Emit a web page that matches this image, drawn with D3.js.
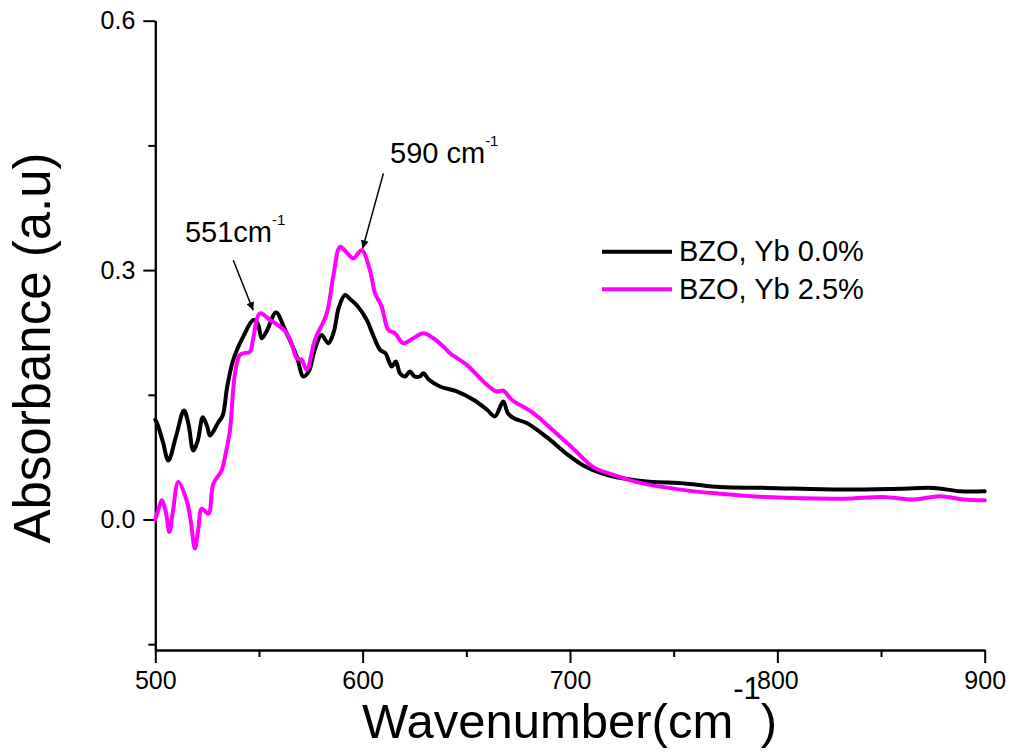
<!DOCTYPE html>
<html>
<head>
<meta charset="utf-8">
<script src="https://cdn.jsdelivr.net/npm/d3@7"></script>
<style>
  body { margin: 0; background: #fff; }
  svg { font-family: "Liberation Sans", Arial, sans-serif; }
</style>
</head>
<body>
<svg id="chart" width="1013" height="755"></svg>
<script>
// BZO, Yb 0.0%
var wn0 = [500, 501, 503.7, 506.3, 510, 513.8, 516, 518.3, 520.5, 522.9, 525, 526.4, 530.4, 532.5, 534.7,
    537.6, 542.4, 547.3, 549.5, 551.3, 554, 558.2, 562.6, 568.2, 571.4, 574, 577, 580.2, 583.4, 586,
    588.5, 591.5, 594, 597.1, 602, 605, 608.4, 611, 614, 616, 618, 620.5, 622.8, 625, 627.6, 629.3,
    632, 637.3, 645.4, 653.4, 660, 663.8, 667.8, 670, 672.7, 679.1, 688.8, 698.4, 706.4, 716, 732.2,
    756.3, 772.3, 794.9, 831.8, 859.1, 875.2, 888, 900];
var abs0 = [0.120, 0.115, 0.093, 0.071, 0.100, 0.131, 0.115, 0.083, 0.095, 0.123, 0.112, 0.101, 0.117, 0.125, 0.160,
    0.192, 0.220, 0.240, 0.235, 0.218, 0.228, 0.249, 0.228, 0.196, 0.172, 0.178, 0.205, 0.222, 0.212, 0.225,
    0.255, 0.270, 0.265, 0.258, 0.240, 0.222, 0.204, 0.200, 0.184, 0.190, 0.176, 0.172, 0.178, 0.172, 0.172, 0.176,
    0.168, 0.160, 0.154, 0.144, 0.132, 0.124, 0.142, 0.128, 0.122, 0.116, 0.099, 0.079, 0.065, 0.055, 0.047,
    0.043, 0.039, 0.038, 0.036, 0.037, 0.038, 0.034, 0.034];

// BZO, Yb 2.5%
var wn25 = [500, 501.5, 503.1, 505, 506.8, 508.5, 511.1, 515.1, 517, 519.1, 520.8, 522.4, 525.6, 528, 532,
    534, 536, 538.4, 540.8, 543, 545.7, 547, 550.5, 555.3, 560.2, 563.4, 566, 568.2, 570.6, 573, 577,
    582.7, 585.8, 589.1, 592, 595.5, 599.5, 603.5, 606, 609.2, 612.4, 615.6, 619.6, 624.4, 629.3, 634.1,
    638.9, 642.1, 650.2, 658.2, 664.6, 667.8, 671.9, 682.3, 691.9, 701.6, 711.2, 719.3, 732.2, 756.3,
    772.3, 794.9, 831.8, 851, 865.6, 878.4, 889.7, 900];
var abs25 = [0.000, 0.012, 0.023, 0.010, -0.015, 0.010, 0.045, 0.023, 0.000, -0.035, -0.010, 0.013, 0.007, 0.043, 0.059,
    0.080, 0.107, 0.175, 0.198, 0.200, 0.202, 0.215, 0.248, 0.240, 0.232, 0.224, 0.210, 0.194, 0.192, 0.180, 0.216,
    0.248, 0.292, 0.328, 0.322, 0.314, 0.324, 0.300, 0.272, 0.256, 0.228, 0.224, 0.212, 0.218, 0.224, 0.218,
    0.208, 0.200, 0.186, 0.166, 0.154, 0.155, 0.144, 0.128, 0.107, 0.085, 0.063, 0.055, 0.045, 0.035,
    0.031, 0.027, 0.025, 0.027, 0.024, 0.028, 0.024, 0.023];

var seriesNames = ["BZO, Yb 0.0%", "BZO, Yb 2.5%"];
var seriesColors = ["#000000", "#ff00ff"];

var xMajor = [500, 600, 700, 800, 900];
var xMinor = [550, 650, 750, 850];
var yMajor = [0, 0.3, 0.6];
var yMinor = [-0.15, 0.15, 0.45];

// peak labels: [text, textX, textY, arrowFromX, arrowFromY, arrowToX, arrowToY]
var peakNotes = [
    ["551cm", 514.3, 0.3337, 537.6, 0.3118, 547.2, 0.2516],
    ["590 cm", 613.2, 0.4284, 610.0, 0.4164, 600.0, 0.3260]
];

var svg = d3.select("#chart");

var x = d3.scaleLinear().domain([500, 900]).range([155.3, 984.7]);
var y = d3.scaleLinear().domain([-0.157, 0.6]).range([650, 20.7]);

var defs = svg.append("defs");
defs.append("marker")
    .attr("id", "arrowhead")
    .attr("viewBox", "0 0 10 10")
    .attr("refX", 10).attr("refY", 5)
    .attr("markerWidth", 15).attr("markerHeight", 8)
    .attr("markerUnits", "userSpaceOnUse")
    .attr("orient", "auto")
    .append("path")
    .attr("d", "M0,0 L10,5 L0,10 Z")
    .attr("fill", "#000");

// axes
var fmt = d3.format(".1f");
function styleAxis(g) {
    g.selectAll("path, line").attr("stroke", "#000").attr("stroke-width", 2);
    g.selectAll("text").attr("fill", "#000").attr("font-size", 25)
        .attr("font-family", "Liberation Sans, Arial, sans-serif");
}

svg.append("g")
    .attr("transform", "translate(0,650)")
    .call(d3.axisBottom(x).tickValues(xMinor).tickSize(7).tickSizeOuter(0).tickFormat(""))
    .call(styleAxis);
svg.append("g")
    .attr("transform", "translate(0,650)")
    .call(d3.axisBottom(x).tickValues(xMajor).tickSize(13).tickSizeOuter(0).tickPadding(8).tickFormat(d3.format("d")))
    .call(styleAxis);

svg.append("g")
    .attr("transform", "translate(155.3,0)")
    .call(d3.axisLeft(y).tickValues(yMinor).tickSize(7).tickSizeOuter(0).tickFormat(""))
    .call(styleAxis);
svg.append("g")
    .attr("transform", "translate(155.3,0)")
    .call(d3.axisLeft(y).tickValues(yMajor).tickSize(12).tickSizeOuter(0).tickPadding(8).tickFormat(fmt))
    .call(styleAxis);

// curves
var line = d3.line()
    .x(function (d) { return x(d[0]); })
    .y(function (d) { return y(d[1]); })
    .curve(d3.curveCatmullRom.alpha(0.5));

var series = [d3.zip(wn0, abs0), d3.zip(wn25, abs25)];
series.forEach(function (pts, i) {
    svg.append("path")
        .datum(pts)
        .attr("d", line)
        .attr("fill", "none")
        .attr("stroke", seriesColors[i])
        .attr("stroke-width", 4)
        .attr("stroke-linejoin", "round")
        .attr("stroke-linecap", "round");
});

// peak annotations
peakNotes.forEach(function (n) {
    svg.append("line")
        .attr("x1", x(n[3])).attr("y1", y(n[4]))
        .attr("x2", x(n[5])).attr("y2", y(n[6]))
        .attr("stroke", "#000").attr("stroke-width", 1.5)
        .attr("marker-end", "url(#arrowhead)");
    var t = svg.append("text")
        .attr("x", x(n[1])).attr("y", y(n[2]))
        .attr("font-size", 29).attr("fill", "#000");
    t.append("tspan").text(n[0]);
    t.append("tspan").text("-1").attr("font-size", 15).attr("dy", -17);
});

// legend
var legend = svg.append("g").attr("transform", "translate(602,251.7)");
seriesNames.forEach(function (name, i) {
    var row = legend.append("g").attr("transform", "translate(0," + (i * 37.6) + ")");
    row.append("line")
        .attr("x1", 0).attr("x2", 70)
        .attr("stroke", seriesColors[i]).attr("stroke-width", 4);
    row.append("text")
        .attr("x", 77).attr("y", 9.5)
        .attr("font-size", 29).attr("fill", "#000")
        .text(name);
});

// axis titles
var xt = svg.append("text")
    .attr("x", 362).attr("y", 738)
    .attr("font-size", 49).attr("fill", "#000");
xt.append("tspan").text("Wavenumber(cm");
xt.append("tspan").text("-1").attr("font-size", 31).attr("dy", -39);
xt.append("tspan").text(")").attr("dy", 39);

svg.append("text")
    .attr("transform", "translate(50,348) rotate(-90)")
    .attr("text-anchor", "middle")
    .attr("font-size", 51).attr("fill", "#000")
    .text("Absorbance (a.u)");
</script>
</body>
</html>
